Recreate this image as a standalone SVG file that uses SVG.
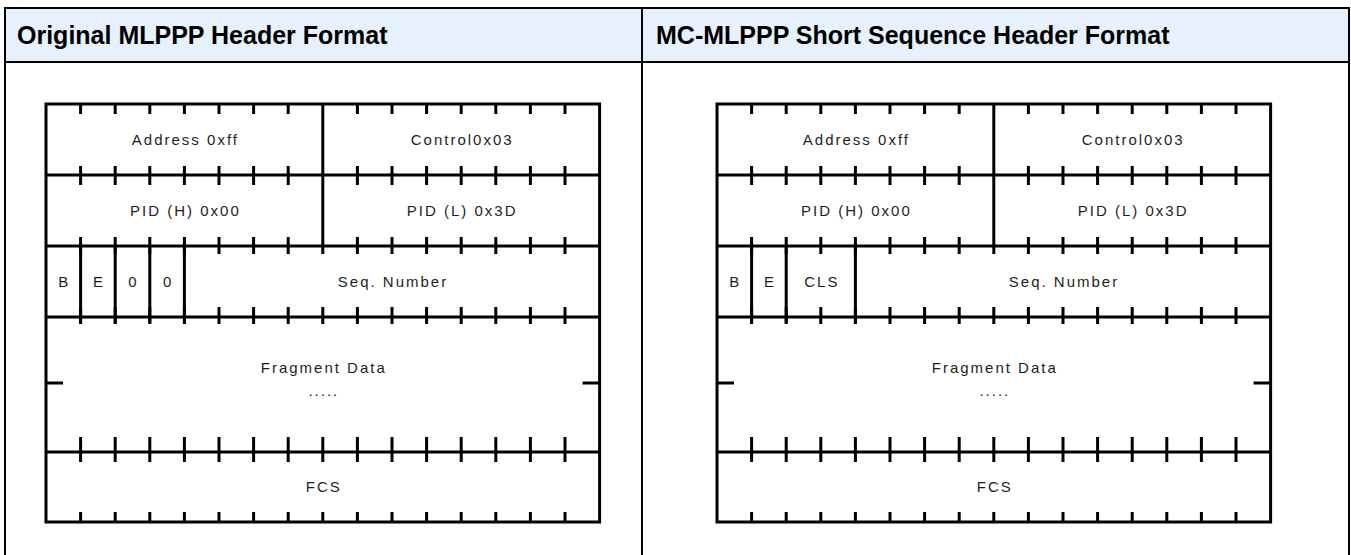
<svg xmlns="http://www.w3.org/2000/svg" xmlns:xlink="http://www.w3.org/1999/xlink" width="1351" height="555" viewBox="0 0 1351 555">
<style>
.hdr{font-family:"Liberation Sans",Arial,sans-serif;font-weight:bold;font-size:25px;fill:#000}
.fld{font-family:"Liberation Sans",Arial,sans-serif;font-size:15px;fill:#1e1e1e;letter-spacing:2px;text-anchor:middle}
.ln{fill:none;stroke:#000;stroke-width:3}
.tbl{fill:none;stroke:#000;stroke-width:2}
</style>
<defs>
<path id="frame" class="ln" d="M0,104 H553.6 V522 H0 Z M0,175 H553.6 M0,246 H553.6 M0,317 H553.6 M0,452 H553.6 M276.8,104 V246 M0,383 H17 M553.6,383 H536.6
M34.6,104 V114 M69.2,104 V114 M103.8,104 V114 M138.4,104 V114 M173,104 V114 M207.6,104 V114 M242.2,104 V114 M311.4,104 V114 M346,104 V114 M380.6,104 V114 M415.2,104 V114 M449.8,104 V114 M484.4,104 V114 M519,104 V114
M34.6,166 V185 M69.2,166 V185 M103.8,166 V185 M138.4,166 V185 M173,166 V185 M207.6,166 V185 M242.2,166 V185 M311.4,166 V185 M346,166 V185 M380.6,166 V185 M415.2,166 V185 M449.8,166 V185 M484.4,166 V185 M519,166 V185
M34.6,237 V254 M69.2,237 V254 M103.8,237 V254 M138.4,237 V254 M173,237 V254 M207.6,237 V254 M242.2,237 V254 M276.8,237 V254 M311.4,237 V254 M346,237 V254 M380.6,237 V254 M415.2,237 V254 M449.8,237 V254 M484.4,237 V254 M519,237 V254
M34.6,307 V324 M69.2,307 V324 M103.8,307 V324 M138.4,307 V324 M173,307 V324 M207.6,307 V324 M242.2,307 V324 M276.8,307 V324 M311.4,307 V324 M346,307 V324 M380.6,307 V324 M415.2,307 V324 M449.8,307 V324 M484.4,307 V324 M519,307 V324
M34.6,437 V462 M69.2,437 V462 M103.8,437 V462 M138.4,437 V462 M173,437 V462 M207.6,437 V462 M242.2,437 V462 M276.8,437 V462 M311.4,437 V462 M346,437 V462 M380.6,437 V462 M415.2,437 V462 M449.8,437 V462 M484.4,437 V462 M519,437 V462
M34.6,512 V522 M69.2,512 V522 M103.8,512 V522 M138.4,512 V522 M173,512 V522 M207.6,512 V522 M242.2,512 V522 M276.8,512 V522 M311.4,512 V522 M346,512 V522 M380.6,512 V522 M415.2,512 V522 M449.8,512 V522 M484.4,512 V522 M519,512 V522"/>
</defs>

<g id="table">
<rect x="5" y="8" width="1344" height="54" fill="#E6F1FD"/>
<path class="tbl" d="M5,555 V8 H1349 V555 M5,62 H1349 M642,8 V555"/>
</g>

<g id="header-left"><text class="hdr" x="17" y="44">Original MLPPP Header Format</text></g>
<g id="header-right"><text class="hdr" x="656" y="44">MC-MLPPP Short Sequence Header Format</text></g>

<g id="mlppp-diagram" transform="translate(46,0)">
<use xlink:href="#frame"/>
<path class="ln" d="M34.6,246 V323 M69.2,246 V323 M103.8,246 V323 M138.4,246 V323"/>
<text class="fld" x="139.4" y="145">Address 0xff</text>
<text class="fld" x="416.2" y="145">Control0x03</text>
<text class="fld" x="139.4" y="216">PID (H) 0x00</text>
<text class="fld" x="416.2" y="216">PID (L) 0x3D</text>
<text class="fld" x="18.3" y="287">B</text>
<text class="fld" x="52.9" y="287">E</text>
<text class="fld" x="87.5" y="287">0</text>
<text class="fld" x="122.1" y="287">0</text>
<text class="fld" x="347" y="287">Seq. Number</text>
<text class="fld" x="277.8" y="373">Fragment Data</text>
<text class="fld" x="277.8" y="396">.....</text>
<text class="fld" x="277.8" y="492">FCS</text>
</g>

<g id="mc-mlppp-diagram" transform="translate(717,0)">
<use xlink:href="#frame"/>
<path class="ln" d="M34.6,246 V323 M69.2,246 V323 M138.4,246 V323"/>
<text class="fld" x="139.4" y="145">Address 0xff</text>
<text class="fld" x="416.2" y="145">Control0x03</text>
<text class="fld" x="139.4" y="216">PID (H) 0x00</text>
<text class="fld" x="416.2" y="216">PID (L) 0x3D</text>
<text class="fld" x="18.3" y="287">B</text>
<text class="fld" x="52.9" y="287">E</text>
<text class="fld" x="104.8" y="287">CLS</text>
<text class="fld" x="347" y="287">Seq. Number</text>
<text class="fld" x="277.8" y="373">Fragment Data</text>
<text class="fld" x="277.8" y="396">.....</text>
<text class="fld" x="277.8" y="492">FCS</text>
</g>
</svg>
